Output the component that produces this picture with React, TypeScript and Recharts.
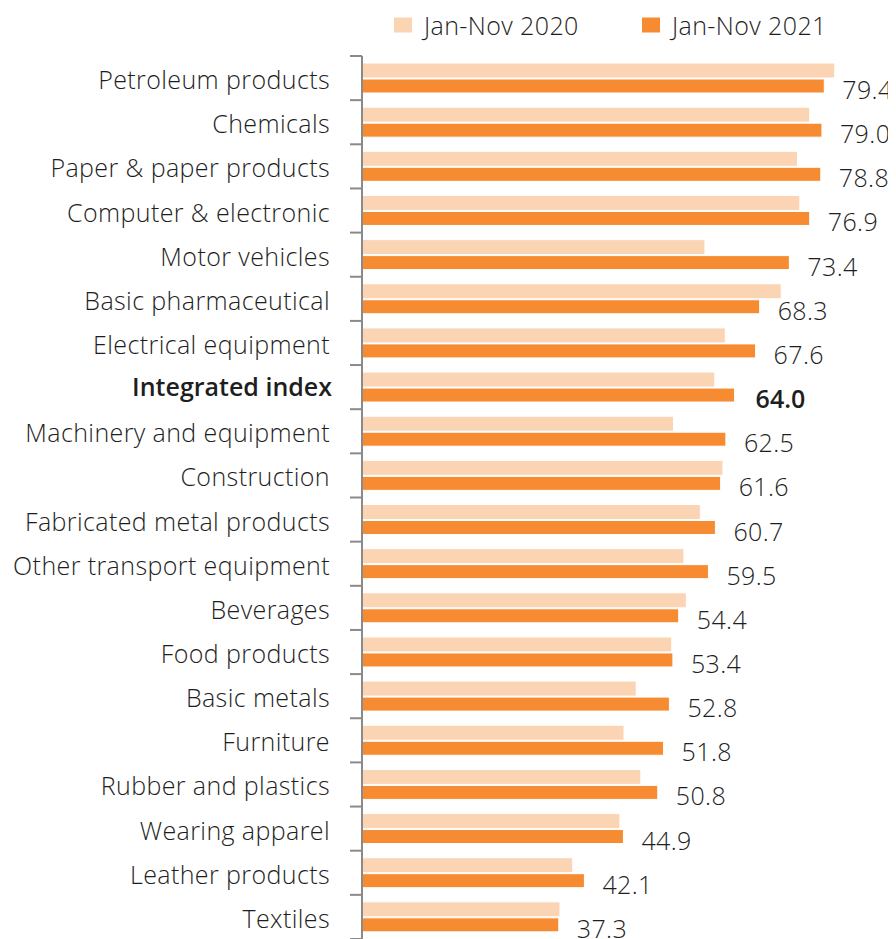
import React from "react";
import { BarChart, Bar, XAxis, YAxis, Legend, LabelList } from "recharts";

const categories = [
  "Petroleum products",
  "Chemicals",
  "Paper & paper products",
  "Computer & electronic",
  "Motor vehicles",
  "Basic pharmaceutical",
  "Electrical equipment",
  "Integrated index",
  "Machinery and equipment",
  "Construction",
  "Fabricated metal products",
  "Other transport equipment",
  "Beverages",
  "Food products",
  "Basic metals",
  "Furniture",
  "Rubber and plastics",
  "Wearing apparel",
  "Leather products",
  "Textiles",
];

const values2020 = [81.2, 76.9, 74.8, 75.2, 58.9, 72.0, 62.4, 60.6, 53.5, 62.0, 58.1, 55.3, 55.7, 53.2, 47.1, 45.0, 47.9, 44.3, 36.2, 34.0];
const values2021 = [79.4, 79.0, 78.8, 76.9, 73.4, 68.3, 67.6, 64.0, 62.5, 61.6, 60.7, 59.5, 54.4, 53.4, 52.8, 51.8, 50.8, 44.9, 38.2, 33.8];
const labels2021 = ["79.4", "79.0", "78.8", "76.9", "73.4", "68.3", "67.6", "64.0", "62.5", "61.6", "60.7", "59.5", "54.4", "53.4", "52.8", "51.8", "50.8", "44.9", "42.1", "37.3"];
const seriesNames = ["Jan-Nov 2020", "Jan-Nov 2021"];
const xDomain = [0, 90];
const boldCategory = "Integrated index";

const data = categories.map((name, i) => ({
  name,
  v2020: values2020[i],
  v2021: values2021[i],
  label: labels2021[i],
}));

const FONT = "'Open Sans', 'DejaVu Sans', sans-serif";
const TEXT = "#1e1e1e";
const AXIS = "#8a8a8a";
const LIGHT = "#FBD4B4";
const DARK = "#F68B31";
const REG = 300;
const BOLD = 600;
const LS = 0.4;

const W = 888;
const H = 931;
const TOP = 48;
const AXIS_X = 354;
const BAND = (H - TOP) / categories.length;

const YTick = (props: any) => {
  const { y, payload } = props;
  const idx = payload?.index ?? props.index ?? 0;
  const bold = payload.value === boldCategory;
  return (
    <g>
      <line x1={AXIS_X - 12} x2={AXIS_X} y1={y - BAND / 2} y2={y - BAND / 2} stroke={AXIS} strokeWidth={2} />
      {idx === categories.length - 1 && (
        <line x1={AXIS_X - 12} x2={AXIS_X} y1={y + BAND / 2} y2={y + BAND / 2} stroke={AXIS} strokeWidth={2} />
      )}
      <text
        x={bold ? AXIS_X - 30 : AXIS_X - 32}
        y={y + (bold ? 9 : 11)}
        textAnchor="end"
        fontFamily={FONT}
        fontSize={25}
        fontWeight={bold ? BOLD : REG}
        letterSpacing={bold ? 0 : LS}
        fill={TEXT}
      >
        {payload.value}
      </text>
    </g>
  );
};

const ValueLabel = (props: any) => {
  const { x, y, width, height, index } = props;
  const bold = categories[index] === boldCategory;
  return (
    <text
      x={x + width + (bold ? 21 : 18)}
      y={y + height / 2 + 13}
      fontFamily={FONT}
      fontSize={25}
      fontWeight={bold ? BOLD : REG}
      letterSpacing={bold ? 0 : LS}
      fill={TEXT}
    >
      {labels2021[index]}
    </text>
  );
};

const LegendContent = () => (
  <svg width={W} height={TOP} style={{ display: "block" }}>
    <rect x={386} y={9.5} width={18} height={15} fill={LIGHT} />
    <text x={416} y={27} fontFamily={FONT} fontSize={25} fontWeight={REG} letterSpacing={LS} fill={TEXT}>
      {seriesNames[0]}
    </text>
    <rect x={634} y={9.5} width={18} height={15} fill={DARK} />
    <text x={664} y={27} fontFamily={FONT} fontSize={25} fontWeight={REG} letterSpacing={LS} fill={TEXT}>
      {seriesNames[1]}
    </text>
  </svg>
);

export default function App() {
  return (
    <div style={{ width: W, height: H, overflow: "hidden" }}>
      <BarChart
        layout="vertical"
        width={W}
        height={H}
        data={data}
        margin={{ top: TOP, right: 10, bottom: 0, left: 0 }}
        barGap={1}
      >
        <XAxis type="number" domain={xDomain} hide />
        <YAxis
          type="category"
          dataKey="name"
          width={AXIS_X}
          interval={0}
          axisLine={{ stroke: AXIS, strokeWidth: 2 }}
          tickLine={false}
          tick={YTick}
        />
        <Legend
          layout="horizontal"
          verticalAlign="middle"
          align="center"
          content={LegendContent}
          wrapperStyle={{ position: "absolute", top: 0, left: 0, width: W, height: TOP }}
        />
        <Bar
          dataKey="v2020"
          name={seriesNames[0]}
          fill={LIGHT}
          stroke="#ffffff"
          strokeWidth={1}
          barSize={15}
          isAnimationActive={false}
        />
        <Bar
          dataKey="v2021"
          name={seriesNames[1]}
          fill={DARK}
          stroke="#ffffff"
          strokeWidth={1}
          barSize={14}
          isAnimationActive={false}
        >
          <LabelList dataKey="label" content={ValueLabel} />
        </Bar>
      </BarChart>
    </div>
  );
}
